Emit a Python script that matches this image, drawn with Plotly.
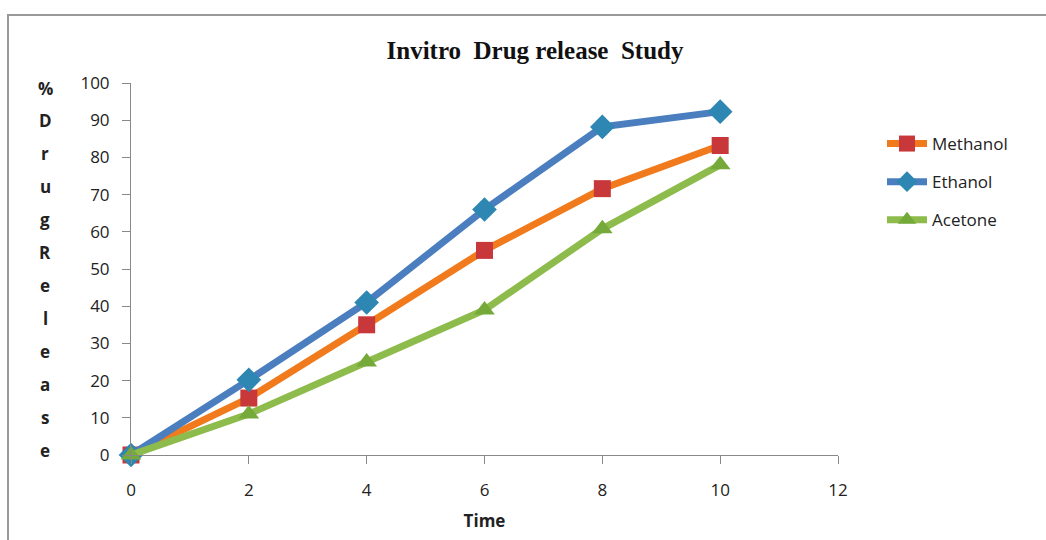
import plotly.graph_objects as go

time = [0, 2, 4, 6, 8, 10]
methanol = [0, 15.3, 35, 55, 71.6, 83.2]
ethanol = [0, 20.2, 41, 66, 88.2, 92.3]
acetone = [0, 11, 25, 39, 60.8, 78]

x_ticks = [0, 2, 4, 6, 8, 10, 12]
y_ticks = [0, 10, 20, 30, 40, 50, 60, 70, 80, 90, 100]
y_title_letters = ["%", "D", "r", "u", "g", "R", "e", "l", "e", "a", "s", "e"]

fig = go.Figure()
fig.add_trace(go.Scatter(
    x=time, y=methanol, name="Methanol", mode="lines+markers", legendgroup="a",
    line=dict(color="#F07A1C", width=7),
    marker=dict(symbol="square", size=17, color="#C8383A", line=dict(width=0)),
    cliponaxis=False,
))
fig.add_trace(go.Scatter(
    x=time, y=ethanol, name="Ethanol", mode="lines+markers", legendgroup="b",
    line=dict(color="#4A7EBF", width=7),
    marker=dict(symbol="diamond", size=19, color="#2D87B2", line=dict(width=0)),
    cliponaxis=False,
))
fig.add_trace(go.Scatter(
    x=time, y=acetone, name="Acetone", mode="lines+markers", legendgroup="c",
    line=dict(color="#8DBB4C", width=7),
    marker=dict(symbol="triangle-up", size=18, color="#75A93A", line=dict(width=0)),
    cliponaxis=False,
))

axis_font = dict(family="Open Sans, Liberation Sans, sans-serif", size=17, color="#222")

fig.update_layout(
    width=1046, height=540, autosize=False,
    margin=dict(l=131, r=208, t=83, b=85),
    paper_bgcolor="white", plot_bgcolor="white",
    title=dict(text="<b>Invitro  Drug release  Study</b>", xref="container", x=535/1046,
               xanchor="center", yref="container", y=1 - 50/540, yanchor="middle",
               font=dict(family="Liberation Serif, Times New Roman, serif", size=25, color="#111")),
    xaxis=dict(range=[0, 12], tickvals=x_ticks, showgrid=False, zeroline=False,
               showline=True, linecolor="#888", linewidth=1, ticks="outside",
               ticklen=8, tickcolor="#888", tickfont=axis_font, ticklabelstandoff=12,
               title=dict(text="<b>Time</b>", font=dict(family="Open Sans, sans-serif", size=17, color="#222"), standoff=14)),
    yaxis=dict(range=[0, 100], tickvals=y_ticks, showgrid=False, zeroline=False,
               showline=True, linecolor="#888", linewidth=1, ticks="outside",
               ticklen=8, tickcolor="#888", tickfont=axis_font, ticklabelstandoff=9),
    legend=dict(x=(882 - 131) / (838 - 131), xanchor="left", y=(455 - 126) / (455 - 83), yanchor="top",
                font=dict(family="Open Sans, Liberation Sans, sans-serif", size=17, color="#222"),
                tracegroupgap=13, itemwidth=40, bgcolor="rgba(0,0,0,0)"),
    showlegend=True,
)

n = len(y_title_letters)
for i, c in enumerate(y_title_letters):
    ypix = 88 + i * (450 - 88) / (n - 1)
    fig.add_annotation(
        text="<b>%s</b>" % c, xref="paper", yref="paper",
        x=(45 - 131) / (838 - 131), y=(455 - ypix) / (455 - 83),
        xanchor="center", yanchor="middle", showarrow=False,
        font=dict(family="Open Sans, sans-serif", size=17, color="#222"),
    )

# chart frame
fig.add_shape(type="rect", xref="paper", yref="paper",
              x0=(8 - 131) / (838 - 131), x1=(1060 - 131) / (838 - 131),
              y0=(455 - 560) / (455 - 83), y1=(455 - 15) / (455 - 83),
              line=dict(color="#999", width=2), layer="below")

fig.write_html("out.html")
